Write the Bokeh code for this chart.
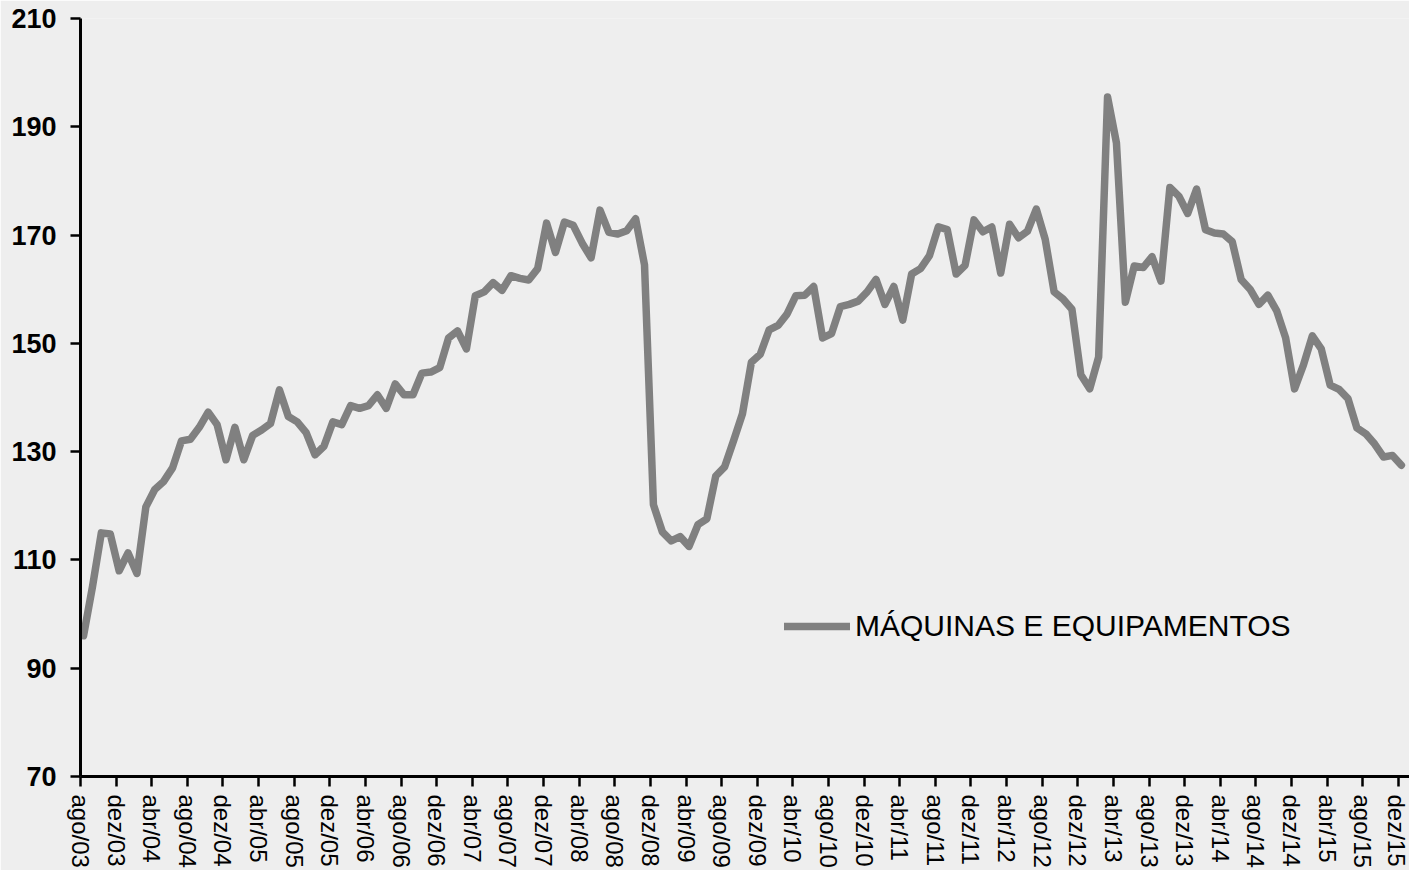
import math
from bokeh.plotting import figure
from bokeh.models import FixedTicker, Legend, LegendItem, Range1d
from bokeh.embed import file_html
from bokeh.resources import INLINE

# ---- data -------------------------------------------------------------
series_name = "MÁQUINAS E EQUIPAMENTOS"

tick_labels = [
    "ago/03", "dez/03",
    "abr/04", "ago/04", "dez/04",
    "abr/05", "ago/05", "dez/05",
    "abr/06", "ago/06", "dez/06",
    "abr/07", "ago/07", "dez/07",
    "abr/08", "ago/08", "dez/08",
    "abr/09", "ago/09", "dez/09",
    "abr/10", "ago/10", "dez/10",
    "abr/11", "ago/11", "dez/11",
    "abr/12", "ago/12", "dez/12",
    "abr/13", "ago/13", "dez/13",
    "abr/14", "ago/14", "dez/14",
    "abr/15", "ago/15", "dez/15",
]

y_ticks = [70, 90, 110, 130, 150, 170, 190, 210]

# monthly index values, ago/03 .. dez/15
values = [
    96, 105, 115, 114.8, 108, 111.3, 107.5, 119.8, 123, 124.5,
    127, 132, 132.3, 134.5, 137.3, 135, 128.5, 134.5, 128.5, 133,
    134, 135.2, 141.4, 136.5, 135.5, 133.5, 129.4, 131, 135.5, 135,
    138.5, 138, 138.5, 140.5, 138, 142.5, 140.5, 140.5, 144.5, 144.7,
    145.5, 151, 152.3, 149, 158.8, 159.5, 161.2, 159.8, 162.5, 162,
    161.7, 163.8, 172.2, 166.8, 172.4, 171.8, 168.5, 165.8, 174.6, 170.5,
    170.2, 170.8, 173, 164.5, 120.2, 115.2, 113.5, 114.3, 112.5, 116.5,
    117.6, 125.5, 127.2, 132, 137, 146.5, 148, 152.5, 153.3, 155.4,
    158.8, 158.9, 160.5, 151, 151.8, 156.8, 157.2, 157.8, 159.5, 161.8,
    157.2, 160.5, 154.3, 162.8, 163.8, 166.2, 171.5, 171, 162.8, 164.4,
    172.8, 170.6, 171.5, 163, 172, 169.5, 170.7, 174.8, 169.2, 159.5,
    158.2, 156.3, 144.2, 141.6, 147.5, 195.5, 187, 157.6, 164.3, 164,
    166, 161.5, 178.8, 177.2, 174, 178.5, 171, 170.4, 170.2, 168.8,
    161.8, 160, 157.2, 158.9, 156, 151, 141.6, 146, 151.4, 149,
    142.3, 141.5, 139.8, 134.4, 133.3, 131.4, 129, 129.3, 127.5,
]

# ---- layout / style ----------------------------------------------------
LABEL_STEP = 4          # one label every 4 months
POINT_OFFSET = 0.34     # points sit slightly right of the tick marks
FONT = "Liberation Sans"
BG = "#eeeeee"

months = list(range(len(values)))
xs = [m + POINT_OFFSET for m in months]
tick_pos = [LABEL_STEP * k for k in range(len(tick_labels))]

p = figure(
    width=1409, height=870,
    output_backend="svg", toolbar_location=None,
    x_range=Range1d(0, 149.25), y_range=Range1d(70, 210),
    min_border_left=80, min_border_right=0, min_border_top=18, min_border_bottom=93,
    background_fill_color=BG, border_fill_color=BG, outline_line_color=None,
)

r = p.line(xs, values, line_color="#808080", line_width=7.5, line_join="round", line_cap="round")

p.xgrid.visible = False
p.ygrid.visible = False

# x axis
p.xaxis.ticker = FixedTicker(ticks=tick_pos)
p.xaxis.major_label_overrides = {pos: lab for pos, lab in zip(tick_pos, tick_labels)}
p.xaxis.major_label_orientation = -math.pi / 2
p.xaxis.major_label_text_font = FONT
p.xaxis.major_label_text_font_size = "24px"
p.xaxis.major_label_text_color = "black"
p.xaxis.major_label_standoff = 8
p.xaxis.minor_tick_line_color = None

# y axis
p.yaxis.ticker = FixedTicker(ticks=y_ticks)
p.yaxis.major_label_text_font = FONT
p.yaxis.major_label_text_font_size = "27px"
p.yaxis.major_label_text_font_style = "bold"
p.yaxis.major_label_text_color = "black"
p.yaxis.major_label_standoff = 14
p.yaxis.minor_tick_line_color = None

for ax in (p.xaxis, p.yaxis):
    ax.axis_line_color = "black"
    ax.axis_line_width = 3
    ax.major_tick_line_color = "black"
    ax.major_tick_line_width = 2.5
    ax.major_tick_out = 10
    ax.major_tick_in = 0

legend = Legend(
    items=[LegendItem(label=series_name, renderers=[r])],
    location=(704, 132),
    glyph_width=66, glyph_height=36, label_height=36,
    label_standoff=5, padding=0, margin=0, spacing=0,
    border_line_color=None, background_fill_alpha=0,
    label_text_font=FONT, label_text_font_size="30px", label_text_color="black",
)
p.add_layout(legend)

open("out.html", "w").write(file_html(p, INLINE))
